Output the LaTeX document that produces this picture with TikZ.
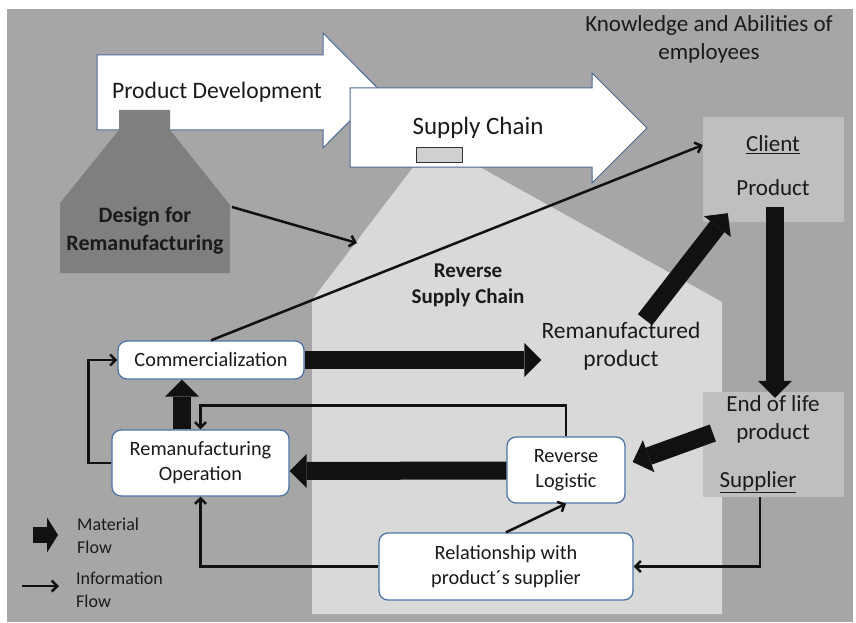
\documentclass[tikz,border=0pt]{standalone}
\usepackage{fontspec}
\setmainfont{Carlito}
\usetikzlibrary{arrows.meta,calc}
\definecolor{bg}{HTML}{A6A6A6}
\definecolor{house}{HTML}{D9D9D9}
\definecolor{dgray}{HTML}{7F7F7F}
\definecolor{clientc}{HTML}{BFBFBF}
\definecolor{boxblue}{HTML}{4F74A8}
\definecolor{arrblue}{HTML}{4A6A9A}
\definecolor{matc}{HTML}{111111}
\definecolor{txt}{HTML}{1A1A1A}
\definecolor{smallfill}{HTML}{D0D0D0}
\begin{document}
\begin{tikzpicture}[x=1pt,y=-1pt,
  box/.style={draw=boxblue,line width=1.3pt,fill=white,rounded corners=9pt,inner sep=0pt,align=center,text=txt,font=\fontsize{20.3}{25}\selectfont},
  lbl/.style={inner sep=0pt,align=center,text=txt},
  mat/.style={draw=matc,line width=18pt,-{Triangle[width=34pt,length=17pt,line width=0pt]}},
  info/.style={draw=matc,line width=2.5pt,-{Straight Barb[length=5.5pt,width=11pt]}},
  bigarrow/.style={draw=arrblue,line width=1pt,fill=white}]
\useasboundingbox (0,0) rectangle (856,623);
\fill[white] (0,0) rectangle (856,623);
\fill[bg] (7,9) rectangle (853,622);
% reverse supply chain house
\fill[house] (312,614) -- (312,300) -- (433,141) -- (722,302) -- (722,614) -- cycle;
% product development arrow
\draw[bigarrow] (97,55) -- (323,55) -- (323,33) -- (380,90.5) -- (323,148) -- (323,130) -- (97,130) -- cycle;
% design for remanufacturing shape
\fill[dgray] (119,110) -- (170,110) -- (170,130) -- (230,205) -- (230,273) -- (60,273) -- (60,203) -- (119,130) -- cycle;
% supply chain arrow
\draw[bigarrow] (350,88) -- (592,88) -- (592,73) -- (647,128) -- (592,183) -- (592,167) -- (350,167) -- cycle;
\node[draw=black!80,fill=smallfill,line width=1pt,minimum width=46pt,minimum height=15pt,inner sep=0pt] (smallbox) at (439,154.5) {};
% client / end of life boxes
\node[fill=clientc,minimum width=141pt,minimum height=105pt,inner sep=0pt] (client) at (773.5,169.5) {};
\node[fill=clientc,minimum width=141pt,minimum height=105pt,inner sep=0pt] (eol) at (773.5,444.5) {};
% texts
\node[lbl,font=\fontsize{23}{28}\selectfont] (kn) at (709,39) {Knowledge and Abilities of\\employees};
\node[lbl,font=\fontsize{23.6}{28}\selectfont] (pd) at (217,92) {Product Development};
\node[lbl,font=\fontsize{25}{28}\selectfont] (sc) at (478,128) {Supply Chain};
\node[lbl,font=\fontsize{22}{28}\selectfont\bfseries] (dfr) at (145,231) {Design for\\Remanufacturing};
\node[lbl,font=\fontsize{21}{26}\selectfont\bfseries] (rsc) at (468,285) {Reverse\\Supply Chain};
\node[lbl,font=\fontsize{23.5}{28}\selectfont] (rp) at (621,346) {Remanufactured\\product};
\node[lbl,font=\fontsize{23}{28}\selectfont] (clt) at (773,145) {\underline{Client}};
\node[lbl,font=\fontsize{23}{28}\selectfont] (cprod) at (773,188) {Product};
\node[lbl,font=\fontsize{23}{28}\selectfont] (eoltxt) at (773,419) {End of life\\product};
\node[lbl,font=\fontsize{23}{28}\selectfont] (sup) at (758,482) {\underline{Supplier}};
% process boxes
\node[box,minimum width=186pt,minimum height=38pt] (comm) at (211,360) {Commercialization};
\node[box,minimum width=177pt,minimum height=66pt] (remop) at (200.5,463) {Remanufacturing\\Operation};
\node[box,minimum width=118pt,minimum height=66pt] (revlog) at (566,470) {Reverse\\Logistic};
\node[box,minimum width=254pt,minimum height=67pt] (rel) at (506,566.5) {Relationship with\\product´s supplier};
% material flows
\draw[mat] (comm.east) -- (comm.east -| rp.west);
\draw[mat] ($(remop.north)+(-18.5,0)$) -- ($(comm.south)+(-29,0)$);
\draw[mat] ($(revlog.west)+(0,0.5)$) -- ($(remop.east)+(0,8)$);
\draw[mat] ($(eol.west)+(10,-11.5)$) -- ($(revlog.east)+(7,-8)$);
\draw[mat] ($(client.south)+(1.5,-15)$) -- ($(eol.north)+(1.5,6)$);
\draw[mat] ($(rp.north)+(24,-2)$) -- ($(client.south west)+(25,-9)$);
% information flows
\coordinate (dfrT) at (232,207);
\coordinate (dfrH) at (357,243);
\draw[info] (dfrT) -- (dfrH);
\draw[info] (comm.north) -- ($(client.west)+(0,-24.5)$);
\draw[info] (revlog.north) -- ++(0,-31) -| (remop.north);
\draw[info] (remop.west) -- ++(-23,0) |- (comm.west);
\draw[info] (rel.north) -- (revlog.south);
\draw[info] ($(eol.south)+(-13.5,0)$) |- (rel.east);
\draw[info] (rel.west) -| (remop.south);
% legend
\coordinate (m1) at (33,535);
\coordinate (m2) at (58,535);
\draw[draw=matc,line width=16pt,-{Triangle[width=35pt,length=11pt,line width=0pt]}] (m1) -- (m2);
\node[lbl,anchor=west,align=left,font=\fontsize{18}{23}\selectfont] (mf) at (77,535.5) {Material\\Flow};
\coordinate (i1) at (22,586);
\coordinate (i2) at (59,586);
\draw[info] (i1) -- (i2);
\node[lbl,anchor=west,align=left,font=\fontsize{18}{23}\selectfont] (inf) at (76,589.5) {Information\\Flow};
\end{tikzpicture}
\end{document}
